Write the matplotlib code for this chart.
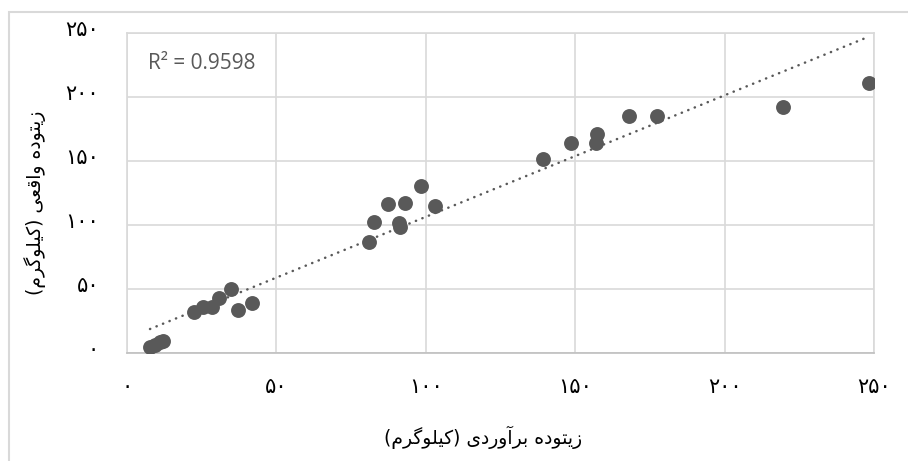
import numpy as np
import matplotlib
matplotlib.use("Agg")
from matplotlib import pyplot as plt
from matplotlib.patches import Rectangle
from matplotlib.transforms import ScaledTranslation

estimated = [7.7, 9.4, 11.0, 12.0, 22.5, 25.6, 28.4, 30.9, 34.8, 37.0, 41.8,
             80.9, 82.5, 87.3, 90.9, 91.2, 93.2, 98.5, 103.2,
             139.2, 148.7, 157.1, 157.3, 168.1, 177.4, 219.5, 248.3]
actual = [4.7, 6.3, 8.6, 9.4, 31.8, 35.7, 36.2, 42.7, 49.7, 33.6, 38.8,
          87.0, 102.6, 116.2, 101.8, 98.7, 117.0, 130.7, 115.1,
          151.3, 164.3, 164.3, 170.9, 185.2, 185.2, 192.4, 211.2]
ticks = [0, 50, 100, 150, 200, 250]
r2_label = "R\u00b2 = 0.9598"
x_title = "زیتوده برآوردی (کیلوگرم)"
y_title = "زیتوده واقعی (کیلوگرم)"

# tiny persian shaper (matplotlib has no text shaping)
FORMS = {
    "ز": "\ufeaf\ufeb0", "و": "\ufeed\ufeee", "د": "\ufea9\ufeaa",
    "ر": "\ufead\ufeae", "آ": "\ufe81\ufe82", "ا": "\ufe8d\ufe8e",
    "ی": "\ufbfc\ufbfd\ufbfe\ufbff", "ت": "\ufe95\ufe96\ufe97\ufe98",
    "ه": "\ufee9\ufeea\ufeeb\ufeec", "ب": "\ufe8f\ufe90\ufe91\ufe92",
    "ک": "\ufb8e\ufb8f\ufb90\ufb91", "ل": "\ufedd\ufede\ufedf\ufee0",
    "گ": "\ufb92\ufb93\ufb94\ufb95", "م": "\ufee1\ufee2\ufee3\ufee4",
    "ق": "\ufed5\ufed6\ufed7\ufed8", "ع": "\ufec9\ufeca\ufecb\ufecc",
}


def shape(text):
    out = []
    for i, ch in enumerate(text):
        if ch not in FORMS:
            out.append(ch)
            continue
        f = FORMS[ch]
        prev = text[i - 1] if i > 0 else ""
        nxt = text[i + 1] if i + 1 < len(text) else ""
        jp = prev in FORMS and len(FORMS[prev]) == 4
        jn = len(f) == 4 and nxt in FORMS
        if jp and jn:
            out.append(f[3])
        elif jp:
            out.append(f[1])
        elif jn:
            out.append(f[2])
        else:
            out.append(f[0])
    vis = "".join(out)[::-1]
    return vis.translate(str.maketrans("()", ")("))


def fa_digits(n):
    return str(n).translate(str.maketrans("0123456789", "۰۱۲۳۴۵۶۷۸۹"))


plt.rcParams['font.family'] = ['DejaVu Sans']
fig = plt.figure(figsize=(9.08, 4.61), dpi=100)
ax = fig.add_axes([127 / 908, 108 / 461, 747 / 908, 320 / 461])

# grey frame around the chart
fig.patches.append(Rectangle((9 / 908, -0.1), 1.2, (461 - 12) / 461 + 0.1,
                             transform=fig.transFigure, fill=False,
                             edgecolor="#d9d9d9", linewidth=1.5))

ax.scatter(estimated, actual, s=115, color="#595959", zorder=3, linewidths=0)

k, b = np.polyfit(estimated, actual, 1)
xs = np.array([min(estimated), max(estimated)])
ax.plot(xs, k * xs + b, color="#595959", lw=1.8,
        linestyle=(0, (0.1, 2.7)), dash_capstyle="round", zorder=2)

ax.set_xlim(0, 250)
ax.set_ylim(0, 250)
ax.set_xticks(ticks, [fa_digits(t) for t in ticks])
ax.set_yticks(ticks, [fa_digits(t) for t in ticks])
ax.tick_params(length=0, labelsize=15, colors="black")
ax.tick_params(axis="x", pad=17)
ax.tick_params(axis="y", pad=20)
for lab in ax.get_yticklabels():
    lab.set_transform(lab.get_transform() + ScaledTranslation(0, 5 / 100, fig.dpi_scale_trans))
ax.grid(True, color="#d9d9d9", linewidth=1.2)
ax.set_axisbelow(True)
for sp in ax.spines.values():
    sp.set_color("#d9d9d9")
    sp.set_linewidth(1.2)
ax.spines["bottom"].set_color("#bfbfbf")

ax.text(7, 226, r2_label, fontsize=15, color="#595959", family="Open Sans",
        va="center", ha="left")

ax.set_xlabel(shape(x_title), fontsize=13.5)
ax.xaxis.set_label_coords((483 - 127) / 747, (353 - 437) / 320)
ax.xaxis.label.set_va("center")
ax.set_ylabel(shape(y_title), fontsize=13.5)
ax.yaxis.set_label_coords((35 - 127) / 747, (353 - 203) / 320)
ax.yaxis.label.set_va("center")

fig.savefig("out.png", dpi=100)
